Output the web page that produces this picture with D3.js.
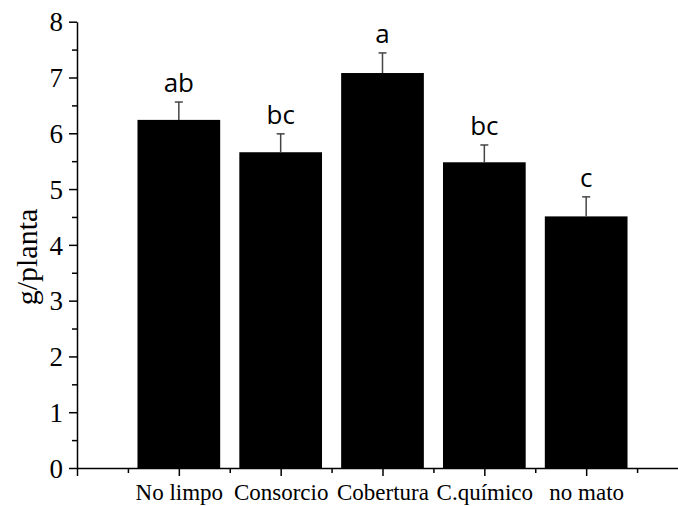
<!DOCTYPE html>
<html>
<head>
<meta charset="utf-8">
<script src="https://cdn.jsdelivr.net/npm/d3@7"></script>
<style>
  body { margin: 0; background: #fff; }
  svg { display: block; }
</style>
</head>
<body>
<div id="chart"></div>
<script>
// data
var categories = ["No limpo", "Consorcio", "Cobertura", "C.químico", "no mato"];
var means = [6.24, 5.66, 7.08, 5.48, 4.51];
var errors = [0.32, 0.33, 0.36, 0.31, 0.35];
var letters = ["ab", "bc", "a", "bc", "c"];
var yTicks = [0, 1, 2, 3, 4, 5, 6, 7, 8];

var width = 678, height = 506;

var svg = d3.select("#chart").append("svg")
    .attr("width", width)
    .attr("height", height);

// x is numeric: categories sit at 1..5
var x = d3.scaleLinear().domain([0, 6]).range([77, 688]);
var y = d3.scaleLinear().domain([0, 8]).range([468, 21.7]);
var barW = 82.7;

var data = categories.map(function(c, i) {
  return {name: c, pos: i + 1, mean: means[i], err: errors[i], letter: letters[i]};
});

// bars
svg.selectAll(".bar")
    .data(data)
  .enter().append("rect")
    .attr("class", "bar")
    .attr("x", function(d) { return x(d.pos) - barW / 2; })
    .attr("width", barW)
    .attr("y", function(d) { return y(d.mean); })
    .attr("height", function(d) { return y(0) - y(d.mean); })
    .attr("fill", "#000");

// error bars (upper half only)
var eb = svg.selectAll(".err").data(data).enter().append("g").attr("class", "err")
    .attr("stroke", "#444").attr("stroke-width", 1.5);
eb.append("line")
    .attr("x1", function(d) { return x(d.pos); })
    .attr("x2", function(d) { return x(d.pos); })
    .attr("y1", function(d) { return y(d.mean); })
    .attr("y2", function(d) { return y(d.mean + d.err); });
eb.append("line")
    .attr("x1", function(d) { return x(d.pos) - 4; })
    .attr("x2", function(d) { return x(d.pos) + 4; })
    .attr("y1", function(d) { return y(d.mean + d.err); })
    .attr("y2", function(d) { return y(d.mean + d.err); });

// significance letters
svg.selectAll(".letter")
    .data(data)
  .enter().append("text")
    .attr("class", "letter")
    .attr("x", function(d) { return x(d.pos); })
    .attr("y", function(d) { return y(d.mean + d.err) - 10; })
    .attr("text-anchor", "middle")
    .style("font-family", "'Open Sans', sans-serif")
    .style("font-size", "26px")
    .text(function(d) { return d.letter; });

// y axis: major + minor ticks
var yAxis = svg.append("g")
    .attr("transform", "translate(" + x(0) + ",0)")
    .call(d3.axisLeft(y).tickValues(yTicks).tickSize(8).tickSizeOuter(0).tickPadding(6));
svg.append("g")
    .attr("transform", "translate(" + x(0) + ",0)")
    .call(d3.axisLeft(y).tickValues(d3.range(0.5, 8, 1)).tickSize(5).tickFormat("").tickSizeOuter(0))
    .select(".domain").remove();
yAxis.selectAll("text")
    .style("font-family", "'Liberation Serif', serif")
    .style("font-size", "27px")
    .attr("dy", "0.34em");

// x axis: major + minor ticks
var xAxis = svg.append("g")
    .attr("transform", "translate(0," + y(0) + ")")
    .call(d3.axisBottom(x).tickValues([0, 1, 2, 3, 4, 5, 6]).tickSize(8).tickSizeOuter(0)
      .tickFormat(function(v) { return categories[v - 1] || ""; }).tickPadding(8));
svg.append("g")
    .attr("transform", "translate(0," + y(0) + ")")
    .call(d3.axisBottom(x).tickValues(d3.range(0.5, 6, 1)).tickSize(5).tickFormat("").tickSizeOuter(0))
    .select(".domain").remove();
xAxis.selectAll("text")
    .style("font-family", "'Liberation Serif', serif")
    .style("font-size", "23px");

svg.selectAll(".domain, .tick line").attr("stroke", "#000").attr("stroke-width", 1.5);

// y label
svg.append("text")
    .attr("transform", "translate(37,257) rotate(-90)")
    .attr("text-anchor", "middle")
    .style("font-family", "'Liberation Serif', serif")
    .style("font-size", "30px")
    .text("g/planta");
</script>
</body>
</html>
